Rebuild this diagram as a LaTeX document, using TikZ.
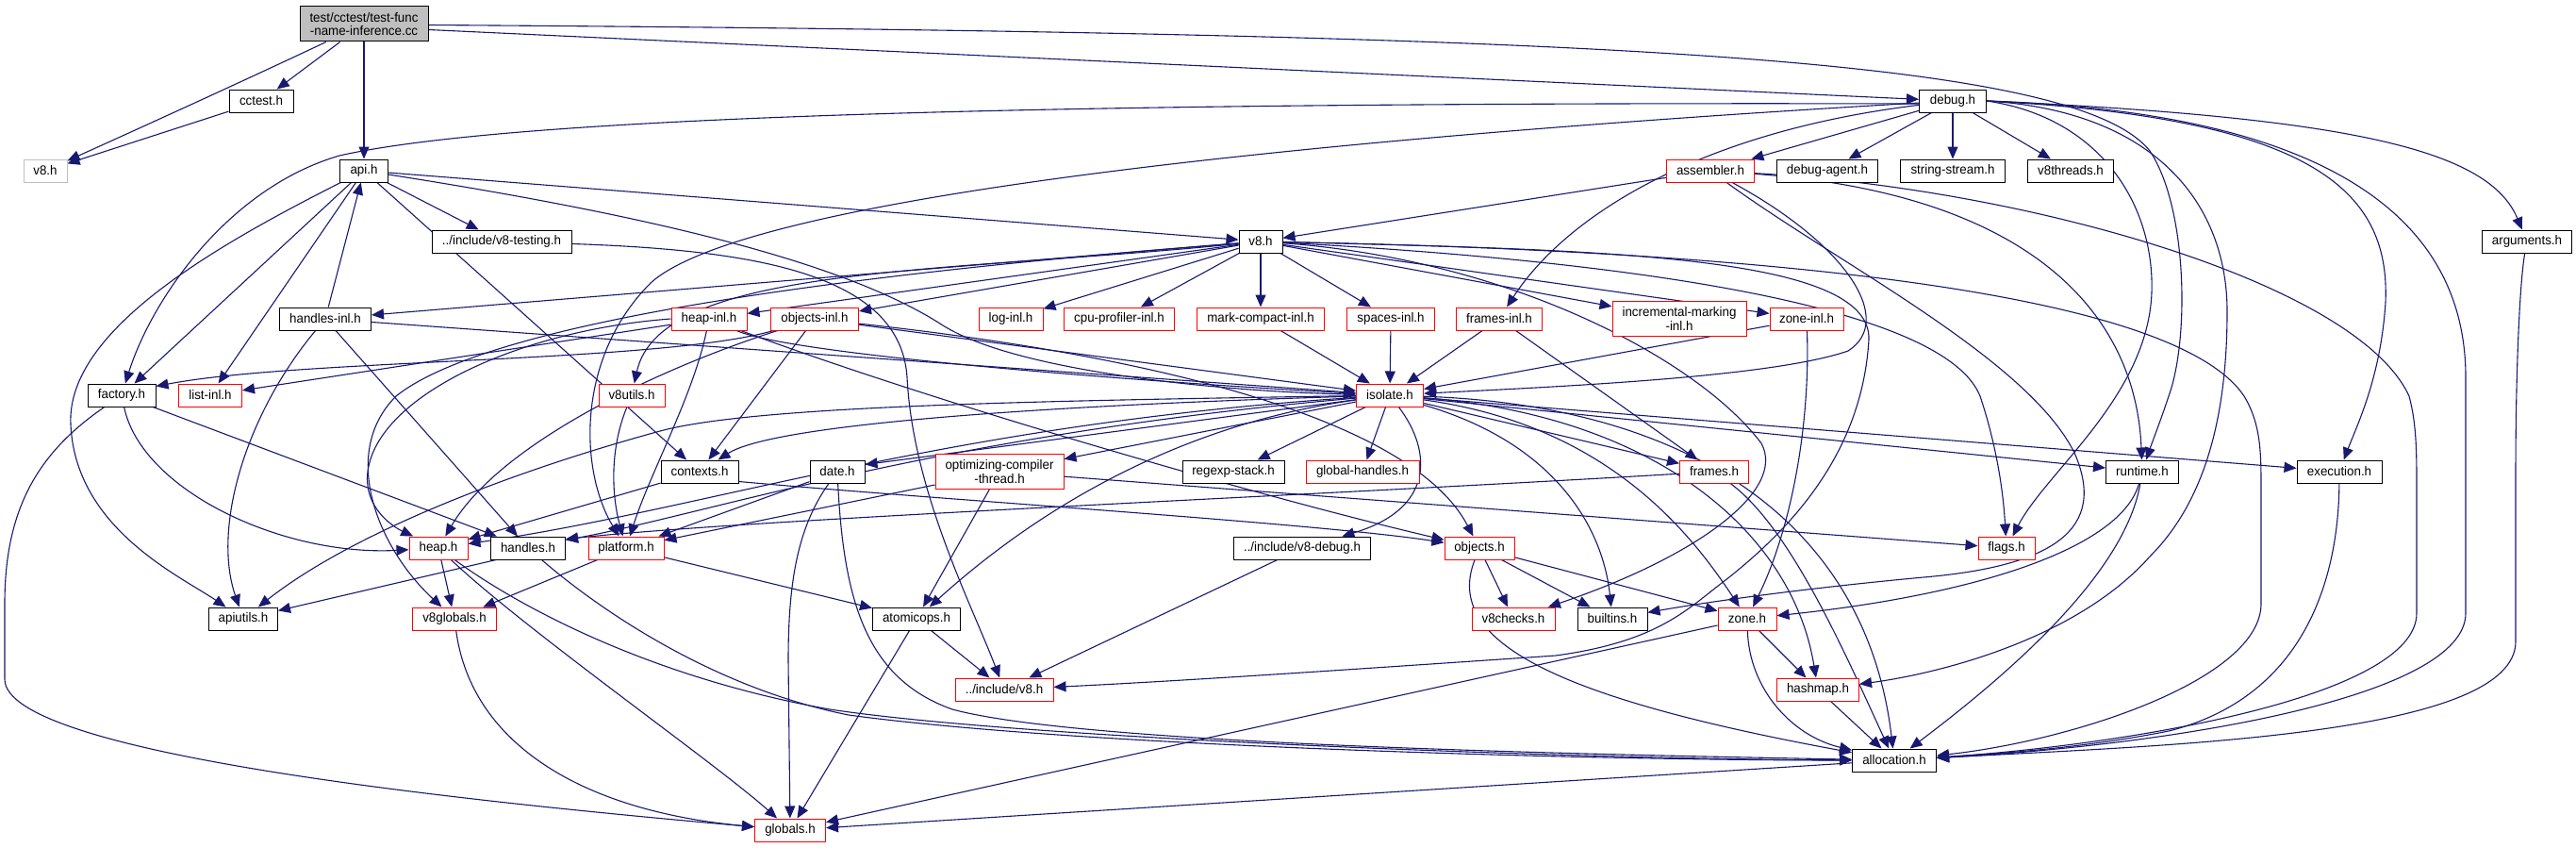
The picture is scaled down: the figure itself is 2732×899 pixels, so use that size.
\documentclass[tikz,border=0pt]{standalone}
\usepackage{fontspec}
\setmainfont[FakeStretch=0.96]{Liberation Sans}
\usetikzlibrary{arrows.meta}
\definecolor{edgec}{RGB}{25,25,112}
\definecolor{tfgrey}{RGB}{191,191,191}
\definecolor{nodegrey}{RGB}{191,191,191}
\newcommand{\lab}{\fontsize{13.9}{14.5}\selectfont}
\pgfdeclarelayer{bg}
\pgfdeclarelayer{edges}
\pgfsetlayers{bg,edges,main}
\tikzset{
 nb/.style={draw=black, line width=1pt, fill=white, inner sep=0pt, minimum height=24pt, font=\lab, align=center},
 nr/.style={nb, draw=red},
 e/.style={draw=edgec, line width=1.1pt, -{Triangle[length=13pt,width=11pt]}},
}
\begin{document}
\begin{tikzpicture}[x=1pt,y=-1pt]
\useasboundingbox (0,0) rectangle (2732,899);
\begin{pgfonlayer}{bg}
\fill[white] (0,0) rectangle (2732,899);
\end{pgfonlayer}
% nodes
\node[nb, fill=tfgrey, minimum width=136pt, minimum height=37pt] (tf) at (386,25.5) {test/cctest/test-func\\-name-inference.cc};
\node[nb, minimum width=68pt] (cctest) at (277,107) {cctest.h};
\node[nb, draw=nodegrey, minimum width=46pt] (v8g) at (48,181) {v8.h};
\node[nb, minimum width=51pt] (api) at (386,181) {api.h};
\node[nb, minimum width=148pt] (v8testing) at (532,256) {../include/v8-testing.h};
\node[nb, minimum width=46pt] (v8) at (1337,256) {v8.h};
\node[nb, minimum width=71pt] (debug) at (2071,107) {debug.h};
\node[nr, minimum width=93pt] (assembler) at (1814,181) {assembler.h};
\node[nb, minimum width=107pt] (debugagent) at (1938,181) {debug-agent.h};
\node[nb, minimum width=111pt] (stringstream) at (2071,181) {string-stream.h};
\node[nb, minimum width=91pt] (v8threads) at (2196,181) {v8threads.h};
\node[nb, minimum width=95pt] (arguments) at (2680,256) {arguments.h};
\node[nb, minimum width=97pt] (handlesinl) at (345,338) {handles-inl.h};
\node[nr, minimum width=80pt] (heapinl) at (752,338) {heap-inl.h};
\node[nr, minimum width=93pt] (objectsinl) at (864,338) {objects-inl.h};
\node[nr, minimum width=68pt] (loginl) at (1072,338) {log-inl.h};
\node[nr, minimum width=117pt] (cpuinl) at (1187,338) {cpu-profiler-inl.h};
\node[nr, minimum width=135pt] (markinl) at (1337,338) {mark-compact-inl.h};
\node[nr, minimum width=93pt] (spacesinl) at (1475,338) {spaces-inl.h};
\node[nr, minimum width=91pt] (framesinl) at (1590,338) {frames-inl.h};
\node[nr, minimum width=142pt, minimum height=37pt] (incrinl) at (1781,338) {incremental-marking\\-inl.h};
\node[nr, minimum width=78pt] (zoneinl) at (1916,338) {zone-inl.h};
\node[nb, minimum width=72pt] (factory) at (129,419) {factory.h};
\node[nr, minimum width=67pt] (listinl) at (223,419) {list-inl.h};
\node[nr, minimum width=70pt] (v8utils) at (670,419) {v8utils.h};
\node[nr, minimum width=71pt] (isolate) at (1474,419) {isolate.h};
\node[nb, minimum width=82pt] (contexts) at (742,500) {contexts.h};
\node[nb, minimum width=58pt] (date) at (888,500) {date.h};
\node[nr, minimum width=136pt, minimum height=37pt] (optimizing) at (1060,500) {optimizing-compiler\\-thread.h};
\node[nb, minimum width=108pt] (regexp) at (1308,500) {regexp-stack.h};
\node[nr, minimum width=120pt] (globalhandles) at (1445,500) {global-handles.h};
\node[nr, minimum width=73pt] (frames) at (1818,500) {frames.h};
\node[nb, minimum width=77pt] (runtime) at (2272,500) {runtime.h};
\node[nb, minimum width=90pt] (execution) at (2481,500) {execution.h};
\node[nr, minimum width=62pt] (heap) at (465,581) {heap.h};
\node[nb, minimum width=79pt] (handles) at (560,581) {handles.h};
\node[nr, minimum width=80pt] (platform) at (664,581) {platform.h};
\node[nb, minimum width=145pt] (v8debug) at (1381,581) {../include/v8-debug.h};
\node[nr, minimum width=74pt] (objects) at (1569,581) {objects.h};
\node[nr, minimum width=60pt] (flags) at (2128,581) {flags.h};
\node[nb, minimum width=73pt] (apiutils) at (258,656) {apiutils.h};
\node[nr, minimum width=89pt] (v8globals) at (482,656) {v8globals.h};
\node[nb, minimum width=93pt] (atomicops) at (972,656) {atomicops.h};
\node[nr, minimum width=88pt] (v8checks) at (1605,656) {v8checks.h};
\node[nb, minimum width=74pt] (builtins) at (1710,656) {builtins.h};
\node[nr, minimum width=62pt] (zone) at (1853,656) {zone.h};
\node[nr, minimum width=104pt] (incv8) at (1065,731) {../include/v8.h};
\node[nr, minimum width=87pt] (hashmap) at (1928,731) {hashmap.h};
\node[nb, minimum width=89pt] (allocation) at (2009,806) {allocation.h};
\node[nr, minimum width=75pt] (globals) at (838,880) {globals.h};
% edges
\begin{pgfonlayer}{edges}
% test-func
\draw[e] (tf) .. controls (260,85) and (150,135) .. (v8g);
\draw[e] (tf) -- (cctest);
\draw[e] (tf) -- (api);
\draw[e] ([yshift=-6pt]tf.east) -- (debug);
\draw[e] ([yshift=-1pt]tf.east) .. controls (1700,35) and (2200,60) .. (2280,160) .. controls (2320,220) and (2322,360) .. (2300,420) .. controls (2290,450) and (2282,470) .. (runtime);
\draw[e] (cctest) -- (v8g);
% api
\draw[e] (api) -- (v8testing);
\draw[e] (api) -- (v8);
\draw[e] (api) .. controls (700,230) and (900,280) .. (1000,345) .. controls (1080,395) and (1300,415) .. (isolate);
\draw[e] (api) -- (factory);
\draw[e] (api) -- (listinl);
\draw[e] (api) -- (contexts);
\draw[e] (api) .. controls (230,260) and (70,350) .. (75,450) .. controls (80,560) and (190,610) .. (apiutils);
% debug
\draw[e] (debug) -- (assembler);
\draw[e] (debug) -- (debugagent);
\draw[e] (debug) -- (stringstream);
\draw[e] (debug) -- (v8threads);
\draw[e] (debug.east) .. controls (2500,125) and (2640,160) .. (arguments);
\draw[e] ([yshift=-3pt]debug.west) .. controls (1200,108) and (560,120) .. (360,165) .. controls (240,200) and (160,320) .. (factory);
\draw[e] (debug) .. controls (1500,140) and (800,200) .. (690,300) .. controls (610,380) and (615,500) .. (platform);
\draw[e] (debug) .. controls (1800,140) and (1660,230) .. (framesinl);
\draw[e] (debug.east) .. controls (2230,125) and (2285,220) .. (2282,310) .. controls (2278,420) and (2170,500) .. (flags);
\draw[e] (debug.east) .. controls (2450,125) and (2535,200) .. (2530,320) .. controls (2525,400) and (2500,450) .. (execution);
\draw[e] (debug.east) .. controls (2290,118) and (2362,220) .. (2362,330) .. controls (2362,460) and (2330,540) .. (2280,590) .. controls (2200,680) and (2050,715) .. (hashmap);
\draw[e] (debug.east) .. controls (2500,120) and (2615,250) .. (2615,400) -- (2615,650) .. controls (2615,740) and (2300,790) .. (allocation);
% assembler
\draw[e] (assembler) -- (v8);
\draw[e] (assembler) .. controls (1960,260) and (2010,340) .. (1960,372) .. controls (1880,400) and (1650,410) .. (isolate);
\draw[e] (assembler) .. controls (2150,205) and (2265,330) .. (runtime);
\draw[e] (assembler) .. controls (2150,200) and (2500,300) .. (2555,420) .. controls (2563,450) and (2563,480) .. (2563,520) -- (2563,650) .. controls (2563,740) and (2250,790) .. (allocation);
\draw[e] (assembler) .. controls (1950,280) and (2150,380) .. (2200,480) .. controls (2235,560) and (2180,600) .. (2040,612) .. controls (1900,625) and (1800,640) .. (builtins);
% v8
\draw[e] (v8) -- (handlesinl);
\draw[e] (v8) -- (heapinl);
\draw[e] (v8) -- (objectsinl);
\draw[e] (v8) -- (loginl);
\draw[e] (v8) -- (cpuinl);
\draw[e] (v8) -- (markinl);
\draw[e] (v8) -- (spacesinl);
\draw[e] (v8) -- (incrinl);
\draw[e] (v8) -- (zoneinl);
\draw[e] (v8) .. controls (1000,290) and (700,280) .. (v8utils);
\draw[e] (v8) .. controls (900,290) and (520,340) .. (420,420) .. controls (360,480) and (400,580) .. (v8globals);
\draw[e] (v8) .. controls (1700,275) and (2060,320) .. (2100,420) .. controls (2120,480) and (2125,530) .. (flags);
\draw[e] (v8) .. controls (1800,265) and (2300,300) .. (2380,420) .. controls (2398,450) and (2398,480) .. (2398,520) -- (2398,640) .. controls (2398,720) and (2200,785) .. (allocation);
\draw[e] (v8) .. controls (1600,275) and (1800,380) .. (1868,470) .. controls (1895,520) and (1800,590) .. (v8checks);
\draw[e] (v8) .. controls (1700,265) and (1985,270) .. (1982,360) .. controls (1975,480) and (1900,560) .. (1830,615) .. controls (1790,645) and (1760,680) .. (1650,695) .. controls (1400,712) and (1250,722) .. (incv8);
% v8-testing
\draw[e] (v8testing) .. controls (800,265) and (955,290) .. (962,400) .. controls (968,520) and (1030,640) .. (incv8);
% handles-inl
\draw[e] (handlesinl) -- (api);
\draw[e] (handlesinl) .. controls (260,440) and (225,560) .. (apiutils);
\draw[e] (handlesinl) -- (handles);
\draw[e] (handlesinl) -- (isolate);
% heap-inl
\draw[e] (heapinl) -- (listinl);
\draw[e] (heapinl.west) .. controls (550,350) and (400,420) .. (390,500) .. controls (385,540) and (420,560) .. (heap);
\draw[e] (heapinl) .. controls (735,420) and (690,500) .. (platform);
\draw[e] (heapinl) .. controls (850,380) and (1300,410) .. (isolate);
\draw[e] (heapinl) .. controls (1000,430) and (1350,530) .. (objects);
% objects-inl
\draw[e] (objectsinl) .. controls (700,385) and (320,380) .. ([yshift=-3pt]factory.north east);
\draw[e] (objectsinl) -- (contexts);
\draw[e] (objectsinl) .. controls (700,390) and (530,470) .. (heap);
\draw[e] (objectsinl) -- (isolate);
\draw[e] (objectsinl) .. controls (1250,380) and (1500,450) .. (objects);
% -inl to isolate
\draw[e] (markinl) -- (isolate);
\draw[e] (spacesinl) -- (isolate);
\draw[e] (framesinl) -- (isolate);
\draw[e] (framesinl) -- (frames);
\draw[e] (zoneinl) -- (isolate);
\draw[e] (zoneinl) .. controls (1920,450) and (1900,560) .. (zone);
% factory
\draw[e] (factory) .. controls (150,520) and (300,590) .. (heap);
\draw[e] (factory) -- (handles);
\draw[e] (factory) .. controls (40,480) and (5,540) .. (5,640) -- (5,720) .. controls (5,800) and (500,850) .. (globals);
% v8utils
\draw[e] (v8utils) .. controls (645,480) and (650,530) .. (platform);
% isolate
\draw[e] (isolate) .. controls (1100,425) and (800,430) .. (700,457) .. controls (560,495) and (380,560) .. (apiutils);
\draw[e] (isolate) .. controls (1100,430) and (820,450) .. (contexts);
\draw[e] (isolate) .. controls (1000,450) and (750,540) .. (heap);
\draw[e] (isolate) .. controls (1000,460) and (750,545) .. ([yshift=-4pt]handles.north east);
\draw[e] (isolate) -- ([yshift=-5pt]date.north east);
\draw[e] (isolate) -- (optimizing);
\draw[e] (isolate) -- (regexp);
\draw[e] (isolate) -- (globalhandles);
\draw[e] (isolate) -- (frames);
\draw[e] (isolate) -- (runtime);
\draw[e] (isolate) -- (execution);
\draw[e] (isolate) .. controls (1520,480) and (1520,540) .. (v8debug);
\draw[e] (isolate) .. controls (1250,450) and (1100,540) .. (atomicops);
\draw[e] (isolate) .. controls (1650,470) and (1700,560) .. (builtins);
\draw[e] (isolate) .. controls (1700,450) and (1790,560) .. (zone);
\draw[e] (isolate) .. controls (1750,440) and (1900,560) .. (hashmap);
\draw[e] (isolate) .. controls (1800,430) and (1980,560) .. (allocation);
% contexts
\draw[e] (contexts) -- (heap);
\draw[e] ([yshift=2pt]contexts.south east) .. controls (1000,530) and (1400,555) .. (objects);
% date
\draw[e] (date) -- (platform);
\draw[e] (date) .. controls (845,560) and (836,620) .. (836,700) -- (globals);
\draw[e] (date) .. controls (895,640) and (920,720) .. (1010,752) .. controls (1150,790) and (1700,800) .. (allocation);
% optimizing
\draw[e] (optimizing) -- (platform);
\draw[e] (optimizing) -- (atomicops);
\draw[e] (optimizing) -- (flags);
% frames
\draw[e] (frames) .. controls (1400,525) and (800,550) .. ([yshift=-3pt]handles.north east);
\draw[e] (frames) .. controls (1900,560) and (1960,700) .. (allocation);
% runtime, execution, arguments
\draw[e] (runtime) .. controls (2250,580) and (2100,630) .. (zone);
\draw[e] (runtime) .. controls (2255,600) and (2150,700) .. (allocation);
\draw[e] (execution) .. controls (2480,620) and (2440,740) .. (2300,775) .. controls (2200,795) and (2100,800) .. (allocation);
\draw[e] (arguments) .. controls (2672,300) and (2668,400) .. (2668,500) -- (2668,680) .. controls (2668,780) and (2300,790) .. (allocation);
% heap, handles, platform
\draw[e] (heap) -- (v8globals);
\draw[e] (heap) .. controls (560,670) and (760,810) .. (globals);
\draw[e] (heap) .. controls (560,650) and (700,720) .. (880,752) .. controls (1100,785) and (1700,805) .. (allocation);
\draw[e] ([xshift=6pt]handles.south west) -- (apiutils);
\draw[e] (handles) .. controls (640,650) and (760,730) .. (900,758) .. controls (1150,792) and (1700,806) .. (allocation);
\draw[e] (platform) -- (v8globals);
\draw[e] (platform) -- (atomicops);
% lower
\draw[e] (v8debug) -- (incv8);
\draw[e] (objects) -- (v8checks);
\draw[e] (objects) -- (builtins);
\draw[e] (objects) -- (zone);
\draw[e] (objects) .. controls (1530,680) and (1650,740) .. (allocation);
\draw[e] (v8globals) .. controls (500,790) and (620,860) .. (globals);
\draw[e] (atomicops) -- (incv8);
\draw[e] (atomicops) -- (globals);
\draw[e] (zone) -- (hashmap);
\draw[e] (zone) .. controls (1855,730) and (1900,780) .. (allocation);
\draw[e] (zone) -- (globals);
\draw[e] (hashmap) -- (allocation);
\draw[e] (allocation) -- (globals);
\end{pgfonlayer}
\end{tikzpicture}
\end{document}
